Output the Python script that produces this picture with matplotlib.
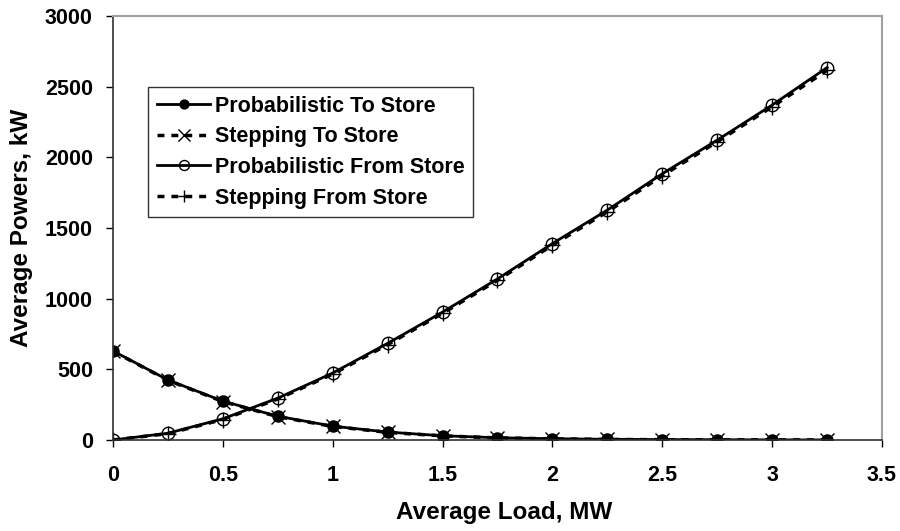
import numpy as np
import matplotlib
matplotlib.use("Agg")
import matplotlib.pyplot as plt

# Data
load_mw = [0, 0.25, 0.5, 0.75, 1.0, 1.25, 1.5, 1.75, 2.0, 2.25, 2.5, 2.75, 3.0, 3.25]
prob_to_store = [630, 425, 275, 168, 98, 56, 30, 16, 9, 5, 3, 2, 1, 0.5]
step_to_store = [628, 422, 272, 165, 96, 54, 29, 15, 8, 4, 2, 1, 1, 0.5]
prob_from_store = [0, 48, 150, 296, 474, 684, 905, 1140, 1390, 1627, 1884, 2122, 2370, 2635]
step_from_store = [0, 45, 145, 290, 466, 675, 896, 1130, 1378, 1615, 1870, 2110, 2358, 2615]

x_ticks = [0, 0.5, 1, 1.5, 2, 2.5, 3, 3.5]
x_ticklabels = ['0', '0.5', '1', '1.5', '2', '2.5', '3', '3.5']
y_ticks = [0, 500, 1000, 1500, 2000, 2500, 3000]

plt.rcParams['font.family'] = ['Liberation Sans', 'DejaVu Sans']
plt.rcParams['font.weight'] = 'bold'

fig = plt.figure(figsize=(9, 5.31), dpi=100)
ax = fig.add_axes([113 / 900, 1 - 440 / 531, 769 / 900, 424 / 531])

ax.plot(load_mw, prob_to_store, color='k', lw=2, marker='o', ms=8,
        mfc='k', mec='k', label='Probabilistic To Store')
ax.plot(load_mw, step_to_store, color='k', lw=2.5, ls=(0, (2, 2)), marker='x', ms=10,
        mew=1, mec='k', label='Stepping To Store')
ax.plot(load_mw, prob_from_store, color='k', lw=2, marker='o', ms=9,
        mfc='none', mec='k', mew=1, label='Probabilistic From Store')
ax.plot(load_mw, step_from_store, color='k', lw=2.5, ls=(0, (2, 2)), marker='+', ms=11,
        mew=1, mec='k', label='Stepping From Store')

ax.set_xlim(0, 3.5)
ax.set_ylim(0, 3000)
ax.set_xticks(x_ticks)
ax.set_xticklabels(x_ticklabels)
ax.set_yticks(y_ticks)
ax.tick_params(direction='out', length=5, width=1, labelsize=15.5)
ax.tick_params(axis='x', pad=13)
ax.tick_params(axis='y', pad=9.5)

for s in ['top', 'right']:
    ax.spines[s].set_color('#a0a0a0')
    ax.spines[s].set_linewidth(1.5)
for s in ['left', 'bottom']:
    ax.spines[s].set_color('#303030')
    ax.spines[s].set_linewidth(1.2)

ax.set_xlabel('Average Load, MW', fontsize=17.5, fontweight='bold')
ax.set_ylabel('Average Powers, kW', fontsize=17.5, fontweight='bold')
ax.xaxis.set_label_coords(0.508, -0.145)
ax.yaxis.set_label_coords(-0.104, 0.5)

leg = ax.legend(loc='upper left', bbox_to_anchor=(0.0455, 0.8325), borderaxespad=0,
                fontsize=15.5, frameon=True, fancybox=False, edgecolor='k',
                handlelength=2.5, handletextpad=0.2, borderpad=0.4,
                labelspacing=0.45, markerscale=0.8)
leg.get_frame().set_linewidth(1)

fig.savefig('out.png', dpi=100)
